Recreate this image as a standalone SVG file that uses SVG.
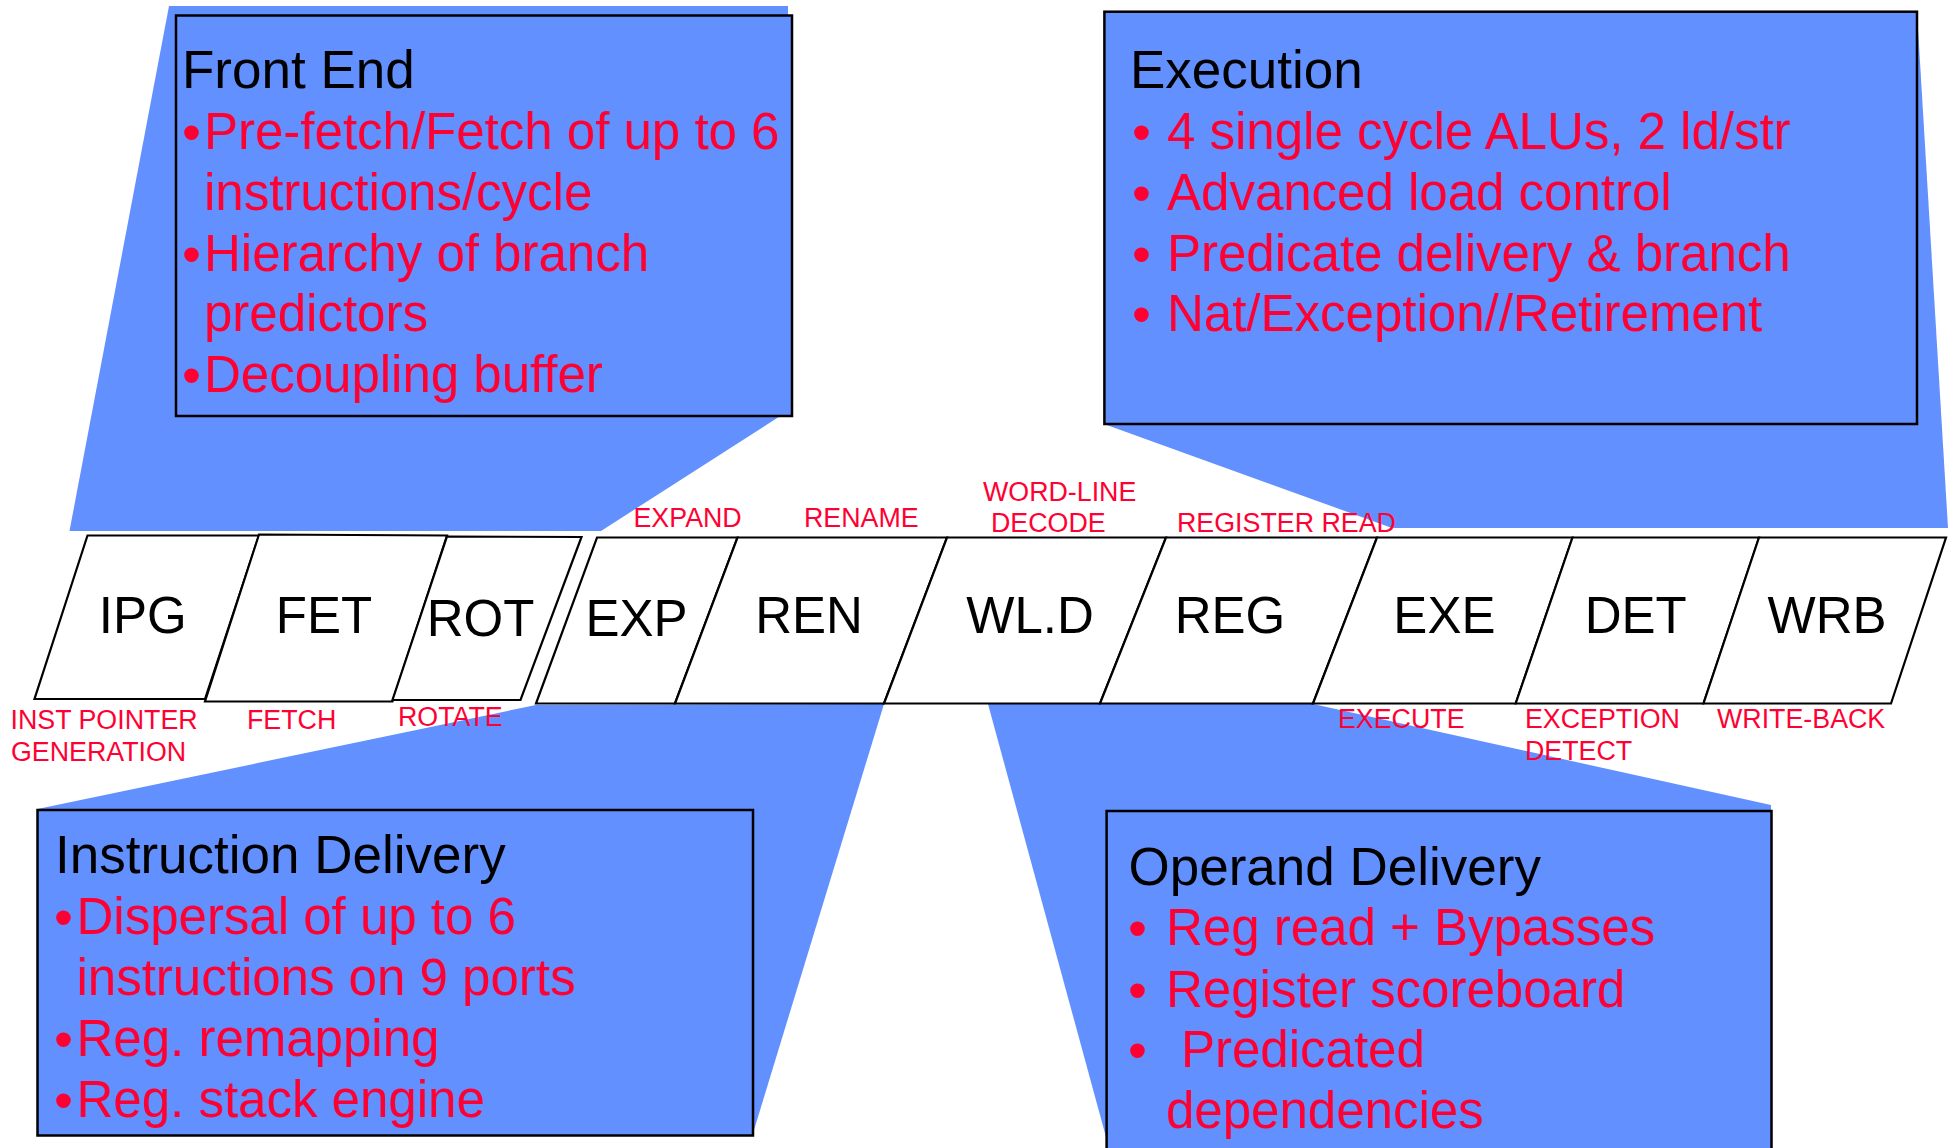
<svg xmlns="http://www.w3.org/2000/svg" width="1948" height="1148" viewBox="0 0 1948 1148">
<style>
text{font-family:"Liberation Sans",Arial,Helvetica,sans-serif}
.wedge{fill:#6290FF}
.box{fill:#6290FF;stroke:#000;stroke-width:2.5}
.stage{fill:#fff;stroke:#000;stroke-width:2.2;stroke-linejoin:miter}
.title{font-size:53px;fill:#000}
.item{font-size:51px;fill:#FF0033}
.bul{font-size:54px}
.sname{font-size:51px;fill:#000;text-anchor:middle}
.lbl{font-size:26.8px;fill:#FF0033}
</style>
<rect width="1948" height="1148" fill="#fff"/>
<g id="connectors">
<polygon class="wedge" points="169,6 788,6 788,411 601,531 69.5,531"/>
<polygon class="wedge" points="1104,12 1917,12 1948,528 1392,528 1104,424"/>
<polygon class="wedge" points="536,705 884,704 754,1130 37.5,1130 37.5,809"/>
<polygon class="wedge" points="988,704 1313,704 1771,805 1771,1148 1109,1148"/>
</g>
<g id="front-end">
<rect class="box" x="176" y="15.5" width="616" height="400.5"/>
<text class="title" x="182" y="87.5">Front End</text>
<text class="item"><tspan class="bul" x="182" y="151">•</tspan><tspan x="204" y="149">Pre-fetch/Fetch of up to 6</tspan></text>
<text class="item" x="204" y="210">instructions/cycle</text>
<text class="item"><tspan class="bul" x="182" y="273">•</tspan><tspan x="204" y="271">Hierarchy of branch</tspan></text>
<text class="item" x="204" y="331">predictors</text>
<text class="item"><tspan class="bul" x="182" y="394">•</tspan><tspan x="204" y="392">Decoupling buffer</tspan></text>
</g>
<g id="execution">
<rect class="box" x="1104.4" y="11.7" width="812.6" height="412.3"/>
<text class="title" x="1130" y="87.5">Execution</text>
<text class="item"><tspan class="bul" x="1132" y="151">•</tspan><tspan x="1167" y="149">4 single cycle ALUs, 2 ld/str</tspan></text>
<text class="item"><tspan class="bul" x="1132" y="212">•</tspan><tspan x="1167" y="210">Advanced load control</tspan></text>
<text class="item"><tspan class="bul" x="1132" y="272.5">•</tspan><tspan x="1167" y="270.5">Predicate delivery &amp; branch</tspan></text>
<text class="item"><tspan class="bul" x="1132" y="333">•</tspan><tspan x="1167" y="331">Nat/Exception//Retirement</tspan></text>
</g>
<g id="instruction-delivery">
<rect class="box" x="37.5" y="810" width="715.5" height="325.5"/>
<text class="title" x="55" y="873">Instruction Delivery</text>
<text class="item"><tspan class="bul" x="54" y="936">•</tspan><tspan x="76.5" y="934">Dispersal of up to 6</tspan></text>
<text class="item" x="76.5" y="995">instructions on 9 ports</text>
<text class="item"><tspan class="bul" x="54" y="1058">•</tspan><tspan x="76.5" y="1056">Reg. remapping</tspan></text>
<text class="item"><tspan class="bul" x="54" y="1119">•</tspan><tspan x="76.5" y="1117">Reg. stack engine</tspan></text>
</g>
<g id="operand-delivery">
<rect class="box" x="1106.6" y="811" width="664.9" height="360"/>
<text class="title" x="1128.5" y="885">Operand Delivery</text>
<text class="item"><tspan class="bul" x="1128" y="947">•</tspan><tspan x="1166" y="945">Reg read + Bypasses</tspan></text>
<text class="item"><tspan class="bul" x="1128" y="1008.5">•</tspan><tspan x="1166" y="1006.5">Register scoreboard</tspan></text>
<text class="item"><tspan class="bul" x="1128" y="1069">•</tspan><tspan x="1181" y="1067">Predicated</tspan></text>
<text class="item" x="1166" y="1128">dependencies</text>
</g>
<g id="stage-ipg">
<polygon class="stage" points="87.5,535.5 259,535.5 205,699 34.5,699"/>
<text class="sname" x="142.8" y="633">IPG</text>
<text class="lbl" x="10.5" y="729.3">INST POINTER</text>
<text class="lbl" x="11" y="761">GENERATION</text>
</g>
<g id="stage-fet">
<polygon class="stage" points="259,534.5 447,535.5 392.5,701.5 205,701.5"/>
<text class="sname" x="324" y="633">FET</text>
<text class="lbl" x="247" y="729">FETCH</text>
</g>
<g id="stage-rot">
<polygon class="stage" points="447,536.5 581.5,537 520.5,700 392.5,700"/>
<text class="sname" x="480.5" y="636">ROT</text>
<text class="lbl" x="398" y="725.7">ROTATE</text>
</g>
<g id="stage-exp">
<polygon class="stage" points="597,537.5 737.5,537.5 675,703.5 536,703.5"/>
<text class="sname" x="636.5" y="636">EXP</text>
<text class="lbl" x="633.5" y="527.3">EXPAND</text>
</g>
<g id="stage-ren">
<polygon class="stage" points="737.5,537.5 947,537.5 884,703.5 675,703.5"/>
<text class="sname" x="809" y="633">REN</text>
<text class="lbl" x="804" y="527.3">RENAME</text>
</g>
<g id="stage-wld">
<polygon class="stage" points="947,537.5 1166,537.5 1100,703.5 884,703.5"/>
<text class="sname" x="1030" y="633">WL.D</text>
<text class="lbl" x="983" y="500.7">WORD-LINE</text>
<text class="lbl" x="991" y="532">DECODE</text>
</g>
<g id="stage-reg">
<polygon class="stage" points="1166,537.5 1377,537.5 1313,703.5 1100,703.5"/>
<text class="sname" x="1230" y="633">REG</text>
<text class="lbl" x="1177" y="532">REGISTER READ</text>
</g>
<g id="stage-exe">
<polygon class="stage" points="1377,537.5 1572.5,537.5 1515.7,703.5 1313,703.5"/>
<text class="sname" x="1444.4" y="633">EXE</text>
<text class="lbl" x="1338" y="728.3">EXECUTE</text>
</g>
<g id="stage-det">
<polygon class="stage" points="1572.5,537.5 1759,537.5 1703.5,703.5 1515.7,703.5"/>
<text class="sname" x="1635.7" y="633">DET</text>
<text class="lbl" x="1525" y="728.3">EXCEPTION</text>
<text class="lbl" x="1525" y="760">DETECT</text>
</g>
<g id="stage-wrb">
<polygon class="stage" points="1759,537.5 1946,537.5 1891,703.5 1703.5,703.5"/>
<text class="sname" x="1827" y="633">WRB</text>
<text class="lbl" x="1717" y="728.3">WRITE-BACK</text>
</g>
</svg>
